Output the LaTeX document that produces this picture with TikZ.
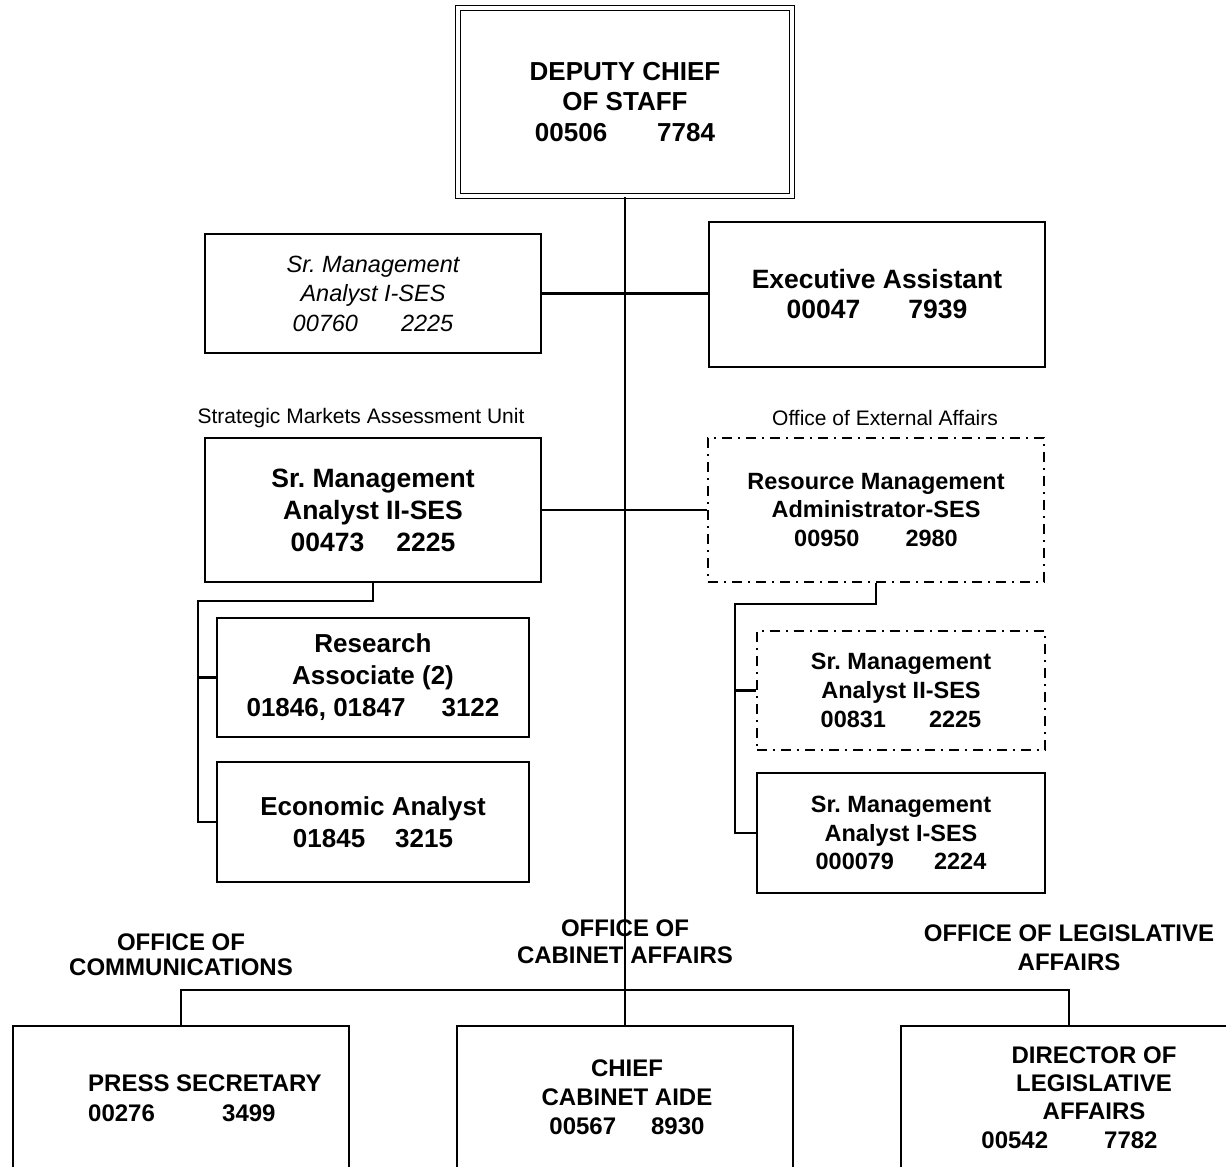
\documentclass[tikz,border=0pt]{standalone}
\usepackage{fontspec}
\setmainfont{Liberation Sans}
\frenchspacing
\begin{document}
\begin{tikzpicture}[x=1pt,y=-1pt,
  box/.style={draw, line width=1.9pt, rectangle, inner sep=0pt, align=center},
  dblbox/.style={draw, line width=1.8pt, double, double distance=3.2pt, rectangle, inner sep=0pt, align=center},
  dashdotbox/.style={box, dash pattern=on 10pt off 6pt on 2pt off 6pt},
  link/.style={line width=2.1pt},
  plain/.style={inner sep=0pt, align=center},
  bigbold/.style={font=\fontsize{26}{30.5}\selectfont\bfseries},
  midbold/.style={font=\fontsize{23.5}{28.8}\selectfont\bfseries},
  lowbold/.style={font=\fontsize{24}{29}\selectfont\bfseries},
  unitlabel/.style={plain, font=\fontsize{21}{25}\selectfont}
]
\useasboundingbox (0,0) rectangle (1226,1167);
\clip (0,0) rectangle (1226,1167);

% head of the office
\node[dblbox, bigbold, minimum width=334pt, minimum height=188pt] (dcos) at (625,102)
  {DEPUTY CHIEF\\OF STAFF\\00506\hspace{50pt}7784};

% staff positions
\node[box, minimum width=336pt, minimum height=119pt,
      font=\fontsize{23.5}{29.5}\selectfont\itshape] (sma1) at (373,293.5)
  {Sr. Management\\Analyst I-SES\\00760\hspace{43pt}2225};
\node[box, minimum width=336pt, minimum height=145pt,
      font=\fontsize{26.5}{30}\selectfont\bfseries] (exec) at (877,294.5)
  {Executive Assistant\\00047\hspace{48pt}7939};

% unit labels
\node[unitlabel] (smau) at (361,418) {Strategic Markets Assessment Unit};
\node[unitlabel] (oea) at (885,418) {Office of External Affairs};

% Strategic Markets Assessment Unit
\node[box, minimum width=336pt, minimum height=144pt,
      font=\fontsize{26.5}{32}\selectfont\bfseries] (sma2) at (373,510)
  {Sr. Management\\Analyst II-SES\\00473\hspace{32pt}2225};
\node[box, minimum width=312pt, minimum height=119pt,
      font=\fontsize{26}{32}\selectfont\bfseries] (ra) at (373,677.5)
  {Research\\Associate (2)\\01846, 01847\hspace{36pt}3122};
\node[box, minimum width=312pt, minimum height=120pt,
      font=\fontsize{26}{32}\selectfont\bfseries] (ea) at (373,822)
  {Economic Analyst\\01845\hspace{30pt}3215};

% Office of External Affairs
\node[dashdotbox, midbold, minimum width=336pt, minimum height=144pt] (rma) at (876,510)
  {Resource Management\\Administrator-SES\\00950\hspace{46pt}2980};
\node[dashdotbox, midbold, minimum width=288pt, minimum height=119pt] (sma2r) at (901,690.5)
  {Sr. Management\\Analyst II-SES\\00831\hspace{43pt}2225};
\node[box, midbold, minimum width=288pt, minimum height=120pt] (sma1r) at (901,833)
  {Sr. Management\\Analyst I-SES\\000079\hspace{40pt}2224};

% office headings
\node[plain, font=\fontsize{24}{25}\selectfont\bfseries] (ocomm) at (181,954.5)
  {OFFICE OF\\COMMUNICATIONS};
\node[plain, font=\fontsize{24}{27}\selectfont\bfseries] (ocab) at (625,941.5)
  {OFFICE OF\\CABINET AFFAIRS};
\node[plain, font=\fontsize{24}{29}\selectfont\bfseries] (oleg) at (1069,947.5)
  {OFFICE OF LEGISLATIVE\\AFFAIRS};

% office boxes (running past the lower edge)
\node[box, minimum width=336pt, minimum height=174pt] (press) at (181,1113) {};
\node[box, minimum width=336pt, minimum height=174pt] (cab) at (625,1113) {};
\node[box, minimum width=336pt, minimum height=174pt] (leg) at (1069,1113) {};

\node[plain, anchor=west, align=left, font=\fontsize{24}{30}\selectfont\bfseries] (presstxt) at (88,1098)
  {PRESS SECRETARY\\\makebox[134pt][l]{00276}3499};
\node[plain, lowbold] (cabtxt) at (627,1097)
  {CHIEF\\CABINET AIDE\\00567\hspace{35pt}8930};
\node[plain, font=\fontsize{24}{28}\selectfont\bfseries] (legtxt) at (1094,1083)
  {DIRECTOR OF\\LEGISLATIVE\\AFFAIRS};
\node[plain, lowbold] (legnum) at (1069.5,1140) {00542\hspace{56pt}7782};

% connectors
\draw[link] (dcos.south) -- (cab.north);
\draw[link] (sma1.east) -- (sma1.east -| exec.west);
\draw[link] (sma2.east) -- (rma.west);

\coordinate (lk) at (198,601);
\draw[link] (sma2.south) |- (lk) |- (ea.west);
\draw[link] (lk |- ra.west) -- (ra.west);

\coordinate (rk) at (735,604);
\draw[link] (rma.south) |- (rk) |- (sma1r.west);
\draw[link] (rk |- sma2r.west) -- (sma2r.west);

\coordinate (bl) at (181,990);
\coordinate (br) at (1069,990);
\draw[link] (press.north) -- (bl) -- (br) -- (leg.north);
\end{tikzpicture}
\end{document}
